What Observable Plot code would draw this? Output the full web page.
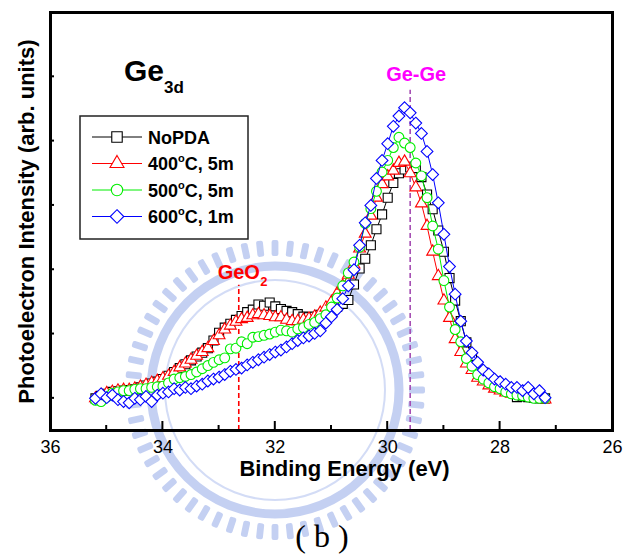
<!DOCTYPE html>
<html><head><meta charset="utf-8">
<script src="https://cdn.jsdelivr.net/npm/d3@7"></script>
<script src="https://cdn.jsdelivr.net/npm/@observablehq/plot@0.6"></script>
<style>
body{margin:0;background:#fff;}
#wrap{position:relative;width:625px;height:554px;overflow:hidden;}
svg{font-family:"Liberation Sans",Arial,sans-serif;}
</style></head><body><div id="wrap"></div>
<script>
// Binding energy grid (eV)
const energy = [35.2,35.1,35.0,34.9,34.8,34.7,34.6,34.5,34.4,34.3,34.2,34.1,34.0,33.9,33.8,33.7,33.6,33.5,33.4,33.3,33.2,33.1,33.0,32.9,32.8,32.7,32.6,32.5,32.4,32.3,32.2,32.1,32.0,31.9,31.8,31.7,31.6,31.5,31.4,31.3,31.2,31.1,31.0,30.9,30.8,30.7,30.6,30.5,30.4,30.3,30.2,30.1,30.0,29.9,29.8,29.7,29.6,29.5,29.4,29.3,29.2,29.1,29.0,28.9,28.8,28.7,28.6,28.5,28.4,28.3,28.2,28.1,28.0,27.9,27.8,27.7,27.6,27.5,27.4,27.3,27.2];
// Intensities (arb. units)
const noPDA = [0.00,0.04,0.07,0.10,0.11,0.12,0.13,0.14,0.17,0.20,0.23,0.26,0.30,0.35,0.41,0.47,0.53,0.59,0.65,0.71,0.78,0.90,1.02,1.10,1.16,1.22,1.28,1.34,1.38,1.46,1.44,1.49,1.43,1.39,1.36,1.34,1.31,1.27,1.26,1.27,1.30,1.33,1.37,1.42,1.47,1.53,1.77,2.02,2.17,2.38,2.63,2.86,3.12,3.35,3.50,3.56,3.59,3.58,3.44,3.17,2.94,2.61,2.28,1.87,1.52,1.20,0.87,0.66,0.50,0.40,0.33,0.26,0.20,0.15,0.10,0.02,0.03,0.02,0.01,0.00,0.00];
const pda400 = [0.00,0.05,0.08,0.10,0.12,0.13,0.13,0.15,0.18,0.21,0.24,0.27,0.31,0.35,0.41,0.48,0.54,0.60,0.66,0.72,0.78,0.89,0.98,1.07,1.13,1.19,1.23,1.25,1.29,1.31,1.29,1.28,1.26,1.26,1.22,1.20,1.20,1.22,1.24,1.27,1.33,1.41,1.50,1.63,1.75,1.92,2.08,2.33,2.56,2.84,3.12,3.33,3.45,3.54,3.66,3.68,3.50,3.28,3.03,2.68,2.28,1.90,1.52,1.25,0.92,0.72,0.54,0.44,0.32,0.26,0.20,0.15,0.12,0.09,0.07,0.05,0.04,0.02,0.01,0.00,-0.02];
const pda500 = [-0.03,-0.05,0.02,0.08,0.10,0.12,0.12,0.14,0.15,0.15,0.17,0.18,0.19,0.24,0.30,0.32,0.34,0.37,0.41,0.46,0.51,0.56,0.60,0.63,0.77,0.78,0.88,0.85,0.95,0.96,0.98,1.00,1.03,1.06,1.05,1.03,1.08,1.10,1.15,1.18,1.24,1.30,1.42,1.56,1.75,1.95,2.12,2.35,2.72,2.95,3.22,3.52,3.70,3.90,4.06,3.97,3.90,3.66,3.46,3.12,2.68,2.32,1.83,1.42,1.07,0.88,0.62,0.50,0.37,0.30,0.24,0.18,0.15,0.10,0.07,0.05,0.04,0.02,0.00,0.00,0.00];
const pda600 = [0.00,0.07,0.01,0.05,-0.02,-0.05,-0.07,0.00,-0.02,0.03,-0.05,0.05,0.08,0.10,0.15,0.13,0.17,0.15,0.19,0.22,0.27,0.30,0.33,0.37,0.42,0.45,0.47,0.52,0.56,0.60,0.64,0.68,0.72,0.75,0.80,0.85,0.90,0.94,0.97,1.01,1.05,1.17,1.27,1.38,1.55,1.75,2.00,2.38,2.73,3.00,3.42,3.70,3.96,4.23,4.39,4.52,4.44,4.28,4.12,3.84,3.48,3.04,2.55,2.05,1.62,1.20,0.89,0.71,0.56,0.44,0.38,0.30,0.26,0.22,0.17,0.17,0.12,0.17,0.07,0.12,0.01];

const seriesNames = ["NoPDA", "400°C, 5m", "500°C, 5m", "600°C, 1m"];
const seriesValues = [noPDA, pda400, pda500, pda600];
const seriesColors = ["#000000", "#ff0000", "#00ee00", "#0000ff"];
const seriesSymbols = [d3.symbolSquare, d3.symbolTriangle, d3.symbolCircle, d3.symbolDiamond2];
const seriesR = [5.1, 4.4, 4.9, 5.3];

const xTickValues = [36, 34, 32, 30, 28, 26];
const xMinorValues = [35, 33, 31, 29, 27];
const yTickValues = [0, 1, 2, 3, 4, 5];

// peak markers: energy, top of dashed line (arb. units), label baseline
const peakNames = ["GeO", "Ge-Ge"];
const peakEnergy = [32.65, 29.6];
const peakLineTop = [1.76, 4.79];
const peakLabelY = [1.86, 4.93];
const peakColors = ["#ff0000", "#ff00ff"];
const peakLineColors = ["#ff0000", "#a54db3"];
const peakLabelDx = [0, 6];

const xLabel = "Binding Energy (eV)";
const yLabel = "Photoelectron Intensity (arb. units)";

const rows = seriesNames.flatMap((s, k) => energy.map((E, i) => ({E, v: seriesValues[k][i], s, k})));
const peaks = peakNames.map((name, i) => ({name, E: peakEnergy[i], top: peakLineTop[i], ly: peakLabelY[i], i}));

const marks = [];
peaks.forEach(p => {
  marks.push(Plot.ruleX([p], {x: "E", y1: -0.5, y2: "top", stroke: peakLineColors[p.i], strokeWidth: 1.6, strokeDasharray: "5,3"}));
});
seriesNames.forEach((s, k) => {
  const d = rows.filter(r => r.k === k);
  marks.push(Plot.line(d, {x: "E", y: "v", stroke: seriesColors[k], strokeWidth: 1}));
  marks.push(Plot.dot(d, {x: "E", y: "v", symbol: seriesSymbols[k], r: seriesR[k], stroke: seriesColors[k], fill: "white", strokeWidth: 1.1}));
});
marks.push(Plot.frame({stroke: "#000", strokeWidth: 3}));
marks.push(Plot.axisX({ticks: xTickValues, tickSize: 0, tickPadding: 10, fontSize: 18, label: null, tickFormat: d => String(d)}));
marks.push(Plot.text([yLabel], {frameAnchor: "left", textAnchor: "middle", rotate: -90, dx: -24, fontWeight: "bold", fontSize: 22, text: d => d}));
marks.push(Plot.text([xLabel], {frameAnchor: "bottom", dx: 13, dy: 45, fontWeight: "bold", fontSize: 22, text: d => d}));
peaks.forEach(p => {
  marks.push(Plot.text([p], {x: "E", y: "ly", text: "name", dx: peakLabelDx[p.i], lineAnchor: "bottom", fontWeight: "bold", fontSize: 20, fill: peakColors[p.i]}));
});

const plot = Plot.plot({
  width: 625, height: 554,
  marginLeft: 50, marginRight: 13, marginTop: 12, marginBottom: 124,
  x: {domain: [36, 26]},
  y: {domain: [-0.5, 6], axis: null},
  style: {fontFamily: "Liberation Sans, Arial, sans-serif", background: "transparent", color: "#000", overflow: "visible"},
  marks
});
document.getElementById("wrap").appendChild(plot);

const svg = d3.select(plot);
const sx = plot.scale("x"), sy = plot.scale("y");
const bottom = sy.apply(-0.5), left = sx.apply(36);

// faint watermark emblem behind the data (decorative)
const wm = svg.insert("g", ":first-child").attr("fill", "#b6c5f0").attr("opacity", 0.8);
const cx = 275, cy = 390;
for (let a = 0; a < 360; a += 6) {
  wm.append("rect").attr("x", -3.4).attr("y", -150).attr("width", 6.8).attr("height", 16).attr("rx", 2)
    .attr("transform", `translate(${cx},${cy}) rotate(${a})`);
}
wm.append("circle").attr("cx", cx).attr("cy", cy).attr("r", 124).attr("fill", "none").attr("stroke", "#b6c5f0").attr("stroke-width", 9);
wm.append("circle").attr("cx", cx).attr("cy", cy).attr("r", 110).attr("fill", "none").attr("stroke", "#c9d4f4").attr("stroke-width", 2);

const tg = svg.append("g").attr("stroke", "#000");
xTickValues.forEach(v => tg.append("line").attr("x1", sx.apply(v)).attr("x2", sx.apply(v)).attr("y1", bottom).attr("y2", bottom - 9).attr("stroke-width", 2));
xMinorValues.forEach(v => tg.append("line").attr("x1", sx.apply(v)).attr("x2", sx.apply(v)).attr("y1", bottom).attr("y2", bottom - 5).attr("stroke-width", 2));
yTickValues.forEach(v => tg.append("line").attr("x1", left).attr("x2", left + 4).attr("y1", sy.apply(v)).attr("y2", sy.apply(v)).attr("stroke-width", 2));

// GeO2 subscript
svg.append("text").attr("text-anchor", "start").attr("x", sx.apply(peakEnergy[0]) + 22).attr("y", sy.apply(peakLabelY[0]) + 8)
  .attr("fill", peakColors[0]).attr("font-weight", "bold").attr("font-size", 13).text("2");

// Ge 3d title
const t = svg.append("text").attr("text-anchor", "start").attr("x", 124).attr("y", 81).attr("font-weight", "bold").attr("font-size", 30).attr("fill", "#000");
t.append("tspan").text("Ge");
t.append("tspan").attr("font-size", 17).attr("dy", 12).text("3d");

// Legend
const lg = svg.append("g").attr("text-anchor", "start");
lg.append("rect").attr("x", 80).attr("y", 116).attr("width", 168).attr("height", 123).attr("fill", "white").attr("stroke", "#222").attr("stroke-width", 1.5);
const rowY = [137, 163.5, 190, 216.5];
seriesNames.forEach((s, k) => {
  const y = rowY[k];
  lg.append("line").attr("x1", 92).attr("x2", 142).attr("y1", y).attr("y2", y).attr("stroke", seriesColors[k]).attr("stroke-width", 1);
  lg.append("path").attr("transform", `translate(117,${y})`).attr("d", d3.symbol(seriesSymbols[k], Math.PI * (seriesR[k] + 0.8) ** 2)())
    .attr("fill", "white").attr("stroke", seriesColors[k]).attr("stroke-width", 1.1);
  const tx = lg.append("text").attr("x", 148).attr("y", y + 6.5).attr("font-weight", "bold").attr("font-size", 18).attr("fill", "#000");
  const m = s.match(/^(\d+)°(.*)$/);
  if (m) {
    tx.append("tspan").text(m[1]);
    tx.append("tspan").attr("font-size", 11).attr("dy", -8).text("o");
    tx.append("tspan").attr("dy", 8).text(m[2]);
  } else tx.text(s);
});

// caption
svg.append("text").attr("x", 322).attr("y", 547).attr("text-anchor", "middle").attr("font-family", "Liberation Serif, serif").attr("font-size", 32).attr("fill", "#000").text("( b )");
</script></body></html>
